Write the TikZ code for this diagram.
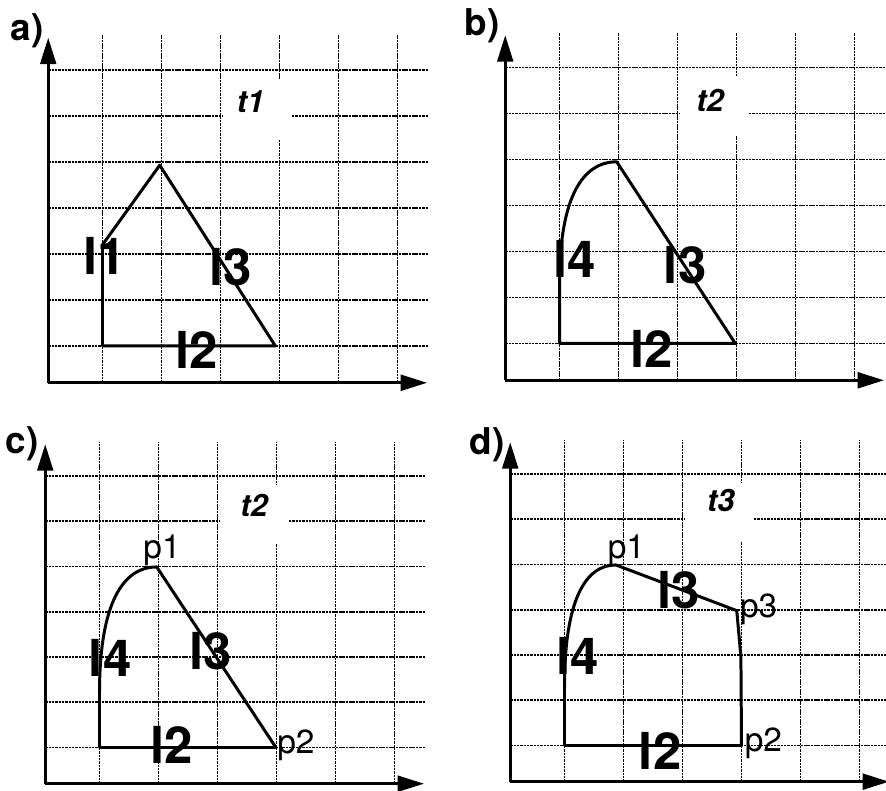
\documentclass[tikz,border=0pt]{standalone}
\usepackage{fontspec}
\setmainfont{TeX Gyre Heros}
\usepackage{tikz}
\usetikzlibrary{arrows.meta}
\tikzset{
  gridline/.style={line width=0.9pt, dash pattern=on 1.4pt off 0.5pt},
  axis/.style={line width=1.6pt, -{Triangle[length=15pt,width=9pt]}},
  edge/.style={line width=1.7pt, line join=round},
  lbl/.style={inner sep=0pt, font=\fontsize{29}{30}\selectfont\bfseries},
  tlbl/.style={inner sep=0pt, font=\fontsize{17.5}{18}\selectfont\bfseries\itshape},
  plbl/.style={inner sep=0pt, font=\fontsize{19}{20}\selectfont},
  panellbl/.style={inner sep=0pt, font=\fontsize{21}{21}\selectfont\bfseries},
}
% grid, mask behind the time label, and the two axes of one panel
\newcommand{\panelgrid}[1]{%
  \foreach \gx in {0,...,5}
    \draw[gridline] (\gx,-0.8) -- (\gx,6.75);
  \foreach \gy in {0,...,6}
    \draw[gridline] (-0.92,\gy) -- (5.53,\gy);
  \fill[white] (2.05,4.5) rectangle (3.2,5.8);
  \coordinate (#1-o) at (-0.92,-0.8);
  \coordinate (#1-x) at (5.5,-0.8);
  \coordinate (#1-y) at (-0.92,6.7);
  \draw[axis] (#1-o) -- (#1-x);
  \draw[axis] (#1-o) -- (#1-y);
}

\begin{document}
\begin{tikzpicture}
  \useasboundingbox (0,0) rectangle (17.72,15.82);

  % a) first triangle
  \begin{scope}[shift={(2.05cm,8.90cm)}, x=1.18cm, y=0.92cm]
    \panelgrid{a}
    \coordinate (a-p0) at (0,0);
    \coordinate (a-v) at (0,2.2);
    \coordinate (a-p1) at (0.97,3.93);
    \coordinate (a-p2) at (2.93,0);
    \draw[edge] (a-p0) -- (a-v) -- (a-p1) -- (a-p2) -- cycle;
    \node[panellbl] (a-tag) at (-1.28,6.85) {a)};
    \node[tlbl] (a-t) at (2.51,5.31) {t1};
    \node[lbl] (a-l1) at (0.03,1.95) {l1};
    \node[lbl] (a-l3) at (2.17,1.72) {l3};
    \node[lbl] (a-l2) at (1.59,-0.09) {l2};
  \end{scope}

  % b) l1 replaced by a curve
  \begin{scope}[shift={(11.19cm,8.95cm)}, x=1.18cm, y=0.92cm]
    \panelgrid{b}
    \coordinate (b-p0) at (0,0);
    \coordinate (b-c) at (0,1.3);
    \coordinate (b-p1) at (0.97,3.95);
    \coordinate (b-p2) at (2.98,0);
    \draw[edge] (b-p0) -- (b-c) .. controls (0,3.2) and (0.4,3.95) .. (b-p1)
      -- (b-p2) -- cycle;
    \node[panellbl] (b-tag) at (-1.31,6.91) {b)};
    \node[tlbl] (b-t) at (2.55,5.29) {t2};
    \node[lbl] (b-l4) at (0.26,1.83) {l4};
    \node[lbl] (b-l3) at (2.13,1.70) {l3};
    \node[lbl] (b-l2) at (1.56,-0.11) {l2};
  \end{scope}

  % c) same shape, corner points named
  \begin{scope}[shift={(1.99cm,0.87cm)}, x=1.18cm, y=0.905cm]
    \panelgrid{c}
    \coordinate (c-p0) at (0,0);
    \coordinate (c-c) at (0,1.2);
    \coordinate (c-p1) at (0.97,3.99);
    \coordinate (c-p2) at (2.99,0);
    \draw[edge] (c-p0) -- (c-c) .. controls (0,3.2) and (0.4,3.99) .. (c-p1)
      -- (c-p2) -- cycle;
    \node[panellbl] (c-tag) at (-1.31,6.71) {c)};
    \node[tlbl] (c-t) at (2.62,5.35) {t2};
    \node[plbl] (c-p1l) at (1.06,4.35) {p1};
    \node[plbl] (c-p2l) at (3.33,0.04) {p2};
    \node[lbl] (c-l4) at (0.18,1.99) {l4};
    \node[lbl] (c-l3) at (1.89,2.13) {l3};
    \node[lbl] (c-l2) at (1.23,0.06) {l2};
  \end{scope}

  % d) new point p3 between p1 and p2
  \begin{scope}[shift={(11.29cm,0.91cm)}, x=1.18cm, y=0.905cm]
    \panelgrid{d}
    \coordinate (d-p0) at (0,0);
    \coordinate (d-c) at (0,1.3);
    \coordinate (d-p1) at (0.87,3.99);
    \coordinate (d-p3) at (2.92,2.98);
    \coordinate (d-k) at (2.99,1.95);
    \coordinate (d-p2) at (3,0);
    \draw[edge] (d-p0) -- (d-c) .. controls (0,3.2) and (0.35,3.99) .. (d-p1)
      -- (d-p3) -- (d-k) -- (d-p2) -- cycle;
    \node[panellbl] (d-tag) at (-1.31,6.64) {d)};
    \node[tlbl] (d-t) at (2.65,5.41) {t3};
    \node[plbl] (d-p1l) at (1.05,4.32) {p1};
    \node[plbl] (d-p3l) at (3.29,3.02) {p3};
    \node[plbl] (d-p2l) at (3.37,0.04) {p2};
    \node[lbl] (d-l4) at (0.23,1.98) {l4};
    \node[lbl] (d-l3) at (1.94,3.44) {l3};
    \node[lbl] (d-l2) at (1.62,-0.11) {l2};
  \end{scope}
\end{tikzpicture}
\end{document}
